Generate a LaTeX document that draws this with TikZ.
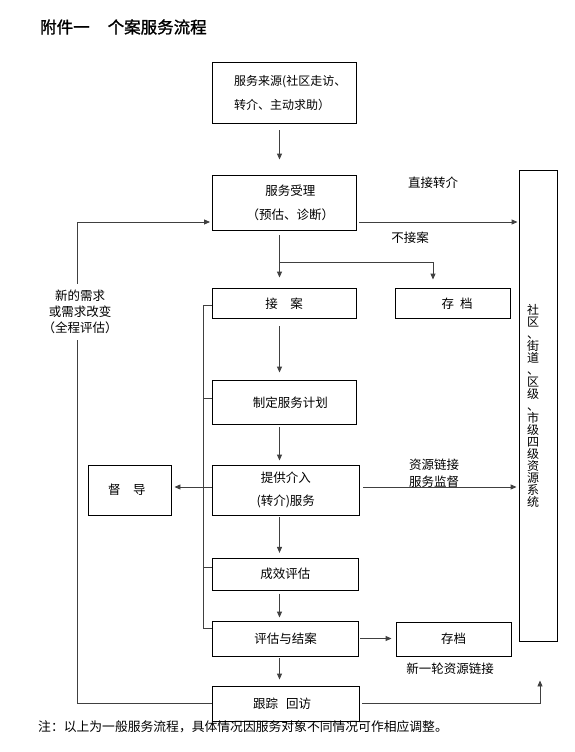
\documentclass[tikz,border=0pt]{standalone}
\usepackage{fontspec}
\setmainfont{Noto Sans CJK SC}
\newfontfamily\titlefont[FakeBold=1.2]{Noto Sans CJK SC}
\usetikzlibrary{arrows.meta}
\begin{document}
\begin{tikzpicture}[x=1pt,y=-1pt,
  box/.style={draw=black, line width=0.9pt, inner sep=0pt, align=center, font=\fontsize{12.5}{24}\selectfont},
  conn/.style={draw=black!75, line width=0.9pt},
  arr/.style={conn, -{Triangle[length=6pt,width=5pt]}},
  lbl/.style={inner sep=0pt, align=center, font=\fontsize{12.5}{17}\selectfont}]
\fill[white] (0,0) rectangle (575,752);
\path[use as bounding box] (0,0) rectangle (575,752);

% title and note
\node[anchor=west, inner sep=0pt, font=\titlefont\fontsize{16.5}{16.5}\selectfont] (title) at (40,27) {附件一\hspace{18pt}个案服务流程};
\node[anchor=west, inner sep=0pt, font=\fontsize{12.8}{12.8}\selectfont] (note) at (38,727) {注：以上为一般服务流程，具体情况因服务对象不同情况可作相应调整。};

% boxes
\node[box, minimum width=144.5pt, minimum height=61.5pt, align=left, font=\fontsize{12}{24.3}\selectfont] (src) at (284.25,92.75) {\hspace*{12pt}服务来源(社区走访、\\\hspace*{12pt}转介、主动求助）};
\node[box, minimum width=144.5pt, minimum height=54.5pt] (recv) at (284.25,202.75) {\hspace*{12pt}服务受理\\\hspace*{12pt}（预估、诊断）};
\node[box, minimum width=144pt, minimum height=30.5pt] (accept) at (284,303.25) {接　案};
\node[box, minimum width=115pt, minimum height=30.5pt] (arch1) at (453,303.25) {\hspace*{8pt}存\hspace{6pt}档};
\node[box, minimum width=144.5pt, minimum height=43.5pt] (plan) at (284.25,402.25) {\hspace*{12pt}制定服务计划};
\node[box, minimum width=146.5pt, minimum height=50pt, font=\fontsize{12.5}{23}\selectfont] (serve) at (285.75,490) {提供介入\\(转介)服务};
\node[box, minimum width=83.5pt, minimum height=50pt] (sup) at (129.75,490) {督　导\hspace*{6pt}};
\node[box, minimum width=146pt, minimum height=31.7pt] (eval) at (285.25,574.2) {成效评估};
\node[box, minimum width=146pt, minimum height=35pt] (close) at (285.5,638.5) {评估与结案};
\node[box, minimum width=115pt, minimum height=34pt] (arch2) at (453.5,639) {存档};
\node[box, minimum width=147pt, minimum height=34.5pt] (follow) at (286,703.75) {跟踪\hspace{8pt}回访\hspace*{8pt}};
\node[box, minimum width=38pt, minimum height=470.5pt] (res) at (538,405.75) {};
\node[lbl, font={\fontsize{12}{12}\selectfont\lineskiplimit=-20pt\relax}] (restext) at (533,406) {社\\区\\、\\街\\道\\、\\区\\级\\、\\市\\级\\四\\级\\资\\源\\系\\统};

% labels
\node[lbl] (direct) at (433,183) {直接转介};
\node[lbl] (noacc) at (410,238) {不接案};
\node[lbl] (link) at (434,473.5) {资源链接\\服务监督};
\node[lbl] (newround) at (450,669) {新一轮资源链接};

% main column
\coordinate (cx) at (279.5,0);
\draw[arr, shorten <=6.5pt, shorten >=15.5pt] (src.south -| cx) -- (recv.north -| cx);
\draw[arr, shorten <=5pt, shorten >=10pt] (recv.south -| cx) -- (accept.north -| cx);
\draw[arr, shorten >=8pt] (cx |- 0,262) -| (arch1.north -| 433,0);
\draw[arr, shorten <=7.5pt, shorten >=7.5pt] (accept.south -| cx) -- (plan.north -| cx);
\draw[arr, shorten <=3pt, shorten >=4pt] (plan.south -| cx) -- (serve.north -| cx);
\draw[arr, shorten <=2pt, shorten >=5pt] (serve.south -| cx) -- (eval.north -| cx);
\draw[arr, shorten <=3pt, shorten >=3pt] (eval.south -| cx) -- (close.north -| cx);
\draw[arr, shorten <=2pt, shorten >=6.5pt] (close.south -| cx) -- (follow.north -| cx);

% side connectors
\draw[arr, shorten <=2.5pt, shorten >=1pt] (recv.east |- 0,222) -- (res.west |- 0,222);
\draw[arr, shorten <=4pt, shorten >=2pt] (serve.east |- 0,487) -- (res.west |- 0,487);
\draw[arr, shorten >=2.5pt] (serve.west |- 0,487) -- (sup.east |- 0,487);
\draw[arr, shorten <=1.5pt, shorten >=4pt] (close.east) -- (arch2.west |- close.east);
\draw[arr, shorten <=2.5pt, shorten >=39pt] (follow.east) -| (res.south -| 540,0);

% inner bar
\coordinate (bt) at (203,305);
\coordinate (bb) at (203,628);
\draw[conn] (accept.west |- bt) -- (bt) -- (bb) -- (close.west |- bb);
\draw[conn] (bt |- 0,398) -- (plan.west |- 0,398);
\draw[conn] (bt |- 0,567) -- (eval.west |- 0,567);

% outer loop
\draw[arr, shorten >=1.5pt] (follow.west) -| (77.5,222) -- (recv.west |- 0,222);
\node[lbl, fill=white, inner xsep=2pt, inner ysep=6pt, font=\fontsize{12.5}{16}\selectfont] (loop) at (80,311.7) {新的需求\\或需求改变\\（全程评估）};
\end{tikzpicture}
\end{document}
